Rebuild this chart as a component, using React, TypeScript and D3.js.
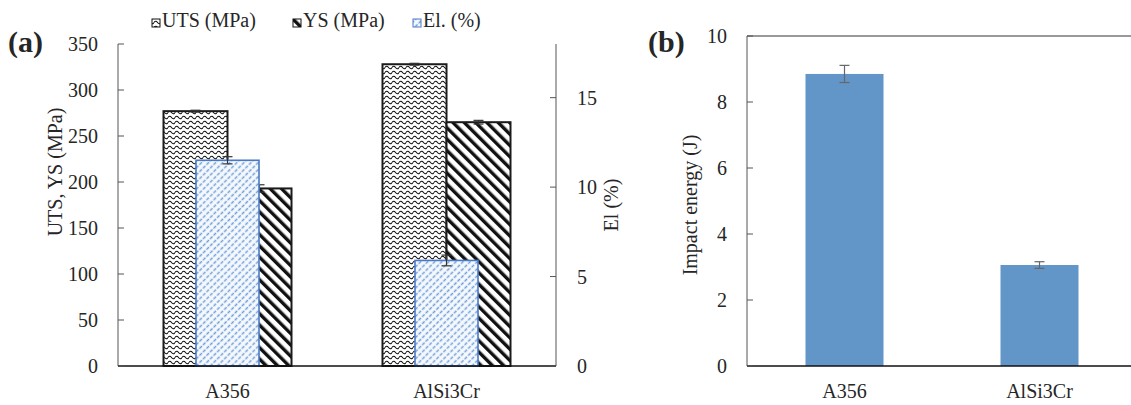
import React from 'react';
import * as d3 from 'd3';

const categories = ['A356', 'AlSi3Cr'];
const utsValues = [277, 328];
const utsErrors = [1, 1];
const ysValues = [193, 265];
const ysErrors = [4, 2];
const elValues = [11.5, 5.9];
const elErrors = [0.2, 0.3];
const impactValues = [8.85, 3.06];
const impactErrors = [0.26, 0.1];
const leftTicks = [0, 50, 100, 150, 200, 250, 300, 350];
const rightTicks = [0, 5, 10, 15];
const impactTicks = [0, 2, 4, 6, 8, 10];

const FONT = "'Liberation Serif', 'DejaVu Serif', serif";
const TXT = '#262626';
const AXIS = '#555';

function ErrorBar({ x, y0, y1, color, cap }) {
  return (
    <g stroke={color} strokeWidth={1.2}>
      <line x1={x} x2={x} y1={y0} y2={y1} />
      <line x1={x - cap} x2={x + cap} y1={y0} y2={y0} />
      <line x1={x - cap} x2={x + cap} y1={y1} y2={y1} />
    </g>
  );
}

export default function App() {
  // panel (a)
  var base = 366;
  var xA = d3.scaleBand().domain(categories).range([118, 556]);
  var yLeft = d3.scaleLinear().domain([0, 350]).range([base, 44]);
  var yRight = d3.scaleLinear().domain([0, 18]).range([base, 44]);
  var inner = d3.scaleBand().domain(['uts', 'ys']).range([-64, 64]);
  var elWidth = 63;

  // panel (b)
  var xB = d3.scaleBand().domain(categories).range([747, 1137]);
  var yB = d3.scaleLinear().domain([0, 10]).range([base, 36]);
  var bWidth = 78;

  var center = (s, c) => s(c) + s.bandwidth() / 2;

  return (
    <svg width={1131} height={405} style={{ position: 'absolute', left: 0, top: 0, fontFamily: FONT }}
      fill={TXT}>
      <defs>
        <pattern id="wave" width={7} height={5} patternUnits="userSpaceOnUse">
          <rect width={7} height={5} fill="#fff" />
          <path d="M0,2.5 Q1.75,0 3.5,2.5 T7,2.5" fill="none" stroke="#111" strokeWidth={1.1} />
        </pattern>
        <pattern id="diag" width={8} height={8} patternUnits="userSpaceOnUse"
          patternTransform="rotate(-45)">
          <rect width={8} height={8} fill="#fff" />
          <rect x={0} y={0} width={3.4} height={8} fill="#111" />
        </pattern>
        <pattern id="blue" width={5} height={5} patternUnits="userSpaceOnUse"
          patternTransform="rotate(-45)">
          <rect width={5} height={5} fill="#f6f9fd" />
          <line x1={0} x2={5} y1={2.5} y2={2.5} stroke="#6e9fd9" strokeWidth={1.3}
            strokeDasharray="3 1.5" />
        </pattern>
      </defs>

      {/* legend */}
      <g fontSize={20}>
        <rect x={152} y={19} width={8} height={8} fill="url(#wave)" stroke="#111" />
        <text x={162} y={27}>UTS (MPa)</text>
        <rect x={293} y={19} width={8} height={8} fill="url(#diag)" stroke="#111" />
        <text x={303} y={27}>YS (MPa)</text>
        <rect x={413} y={19} width={8} height={8} fill="url(#blue)" stroke="#4a78c8" />
        <text x={423} y={27}>El. (%)</text>
      </g>

      <text x={8} y={52} fontSize={30} fontWeight="bold">(a)</text>
      <text x={648} y={52} fontSize={30} fontWeight="bold">(b)</text>

      {/* panel a bars */}
      {categories.map((c, i) => {
        var cx = center(xA, c);
        var ux = cx + inner('uts');
        var yx = cx + inner('ys');
        var bw = inner.bandwidth();
        return (
          <g key={c}>
            <rect x={ux} y={yLeft(utsValues[i])} width={bw} height={base - yLeft(utsValues[i])}
              fill="url(#wave)" stroke="#1a1a1a" strokeWidth={2} />
            <ErrorBar x={ux + bw / 2} y0={yLeft(utsValues[i] + utsErrors[i])}
              y1={yLeft(utsValues[i] - utsErrors[i])} color="#333" cap={5} />
            <rect x={yx} y={yLeft(ysValues[i])} width={bw} height={base - yLeft(ysValues[i])}
              fill="url(#diag)" stroke="#1a1a1a" strokeWidth={2} />
            <ErrorBar x={yx + bw / 2} y0={yLeft(ysValues[i] + ysErrors[i])}
              y1={yLeft(ysValues[i] - ysErrors[i])} color="#333" cap={5} />
          </g>
        );
      })}
      {categories.map((c, i) => {
        var cx = center(xA, c);
        return (
          <g key={'el' + c}>
            <rect x={cx - elWidth / 2} y={yRight(elValues[i])} width={elWidth}
              height={base - yRight(elValues[i])} fill="url(#blue)" stroke="#4a78c8" strokeWidth={1.6} />
            <ErrorBar x={cx} y0={yRight(elValues[i] + elErrors[i])}
              y1={yRight(elValues[i] - elErrors[i])} color="#333" cap={5} />
          </g>
        );
      })}

      {/* panel a axes */}
      <line x1={118} x2={118} y1={44} y2={base} stroke={AXIS} />
      <line x1={556} x2={556} y1={44} y2={base} stroke={AXIS} />
      <line x1={118} x2={556} y1={base} y2={base} stroke="#111" strokeWidth={1.5} />
      {leftTicks.map(t => (
        <g key={'l' + t}>
          <line x1={118} x2={124} y1={yLeft(t)} y2={yLeft(t)} stroke={AXIS} />
          <text x={98} y={yLeft(t)} dy="0.35em" textAnchor="end" fontSize={20}>{t}</text>
        </g>
      ))}
      {rightTicks.map(t => (
        <g key={'r' + t}>
          <line x1={550} x2={556} y1={yRight(t)} y2={yRight(t)} stroke={AXIS} />
          <text x={577} y={yRight(t)} dy="0.35em" fontSize={20}>{t}</text>
        </g>
      ))}
      {categories.map(c => (
        <text key={'xa' + c} x={center(xA, c)} y={398} textAnchor="middle" fontSize={20}>{c}</text>
      ))}
      <text transform="translate(62,172) rotate(-90)" textAnchor="middle" fontSize={20}>UTS, YS (MPa)</text>
      <text transform="translate(618,205) rotate(-90)" textAnchor="middle" fontSize={20}>El (%)</text>

      {/* panel b */}
      {categories.map((c, i) => {
        var cx = center(xB, c);
        return (
          <g key={'b' + c}>
            <rect x={cx - bWidth / 2} y={yB(impactValues[i])} width={bWidth}
              height={base - yB(impactValues[i])} fill="#6296c9" />
            <ErrorBar x={cx} y0={yB(impactValues[i] + impactErrors[i])}
              y1={yB(impactValues[i] - impactErrors[i])} color="#666" cap={5} />
          </g>
        );
      })}
      <line x1={747} x2={747} y1={36} y2={base} stroke={AXIS} />
      <line x1={747} x2={1137} y1={36} y2={36} stroke="#333" />
      <line x1={747} x2={1137} y1={base} y2={base} stroke="#111" strokeWidth={1.5} />
      {impactTicks.map(t => (
        <g key={'b' + t}>
          <line x1={747} x2={753} y1={yB(t)} y2={yB(t)} stroke={AXIS} />
          <text x={727} y={yB(t)} dy="0.35em" textAnchor="end" fontSize={20}>{t}</text>
        </g>
      ))}
      {categories.map(c => (
        <text key={'xb' + c} x={center(xB, c)} y={398} textAnchor="middle" fontSize={20}>{c}</text>
      ))}
      <text transform="translate(697,205) rotate(-90)" textAnchor="middle" fontSize={20}>Impact energy (J)</text>
    </svg>
  );
}
